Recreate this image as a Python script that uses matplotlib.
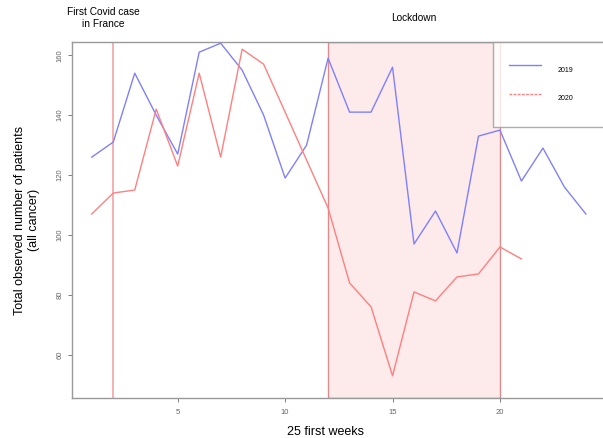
import matplotlib
matplotlib.use("Agg")
import matplotlib.pyplot as plt
from matplotlib.lines import Line2D

weeks = list(range(1, 25))
cases_2019 = [126, 131, 154, 140, 127, 161, 164, 155, 140, 119, 130, 159,
              141, 141, 156, 97, 108, 94, 133, 135, 118, 129, 116, 107]
weeks_2020 = list(range(1, 22))
cases_2020 = [107, 114, 115, 142, 123, 154, 126, 162, 157, 141, 125, 109,
              84, 76, 53, 81, 78, 86, 87, 96, 92]

first_case_week = 2
lockdown = (12, 20)
xticks = [5, 10, 15, 20]
yticks = [60, 80, 100, 120, 140, 160]

plt.rcParams['font.family'] = ['Liberation Sans', 'DejaVu Sans']

fig = plt.figure(figsize=(6.03, 4.38), dpi=100)
ax = fig.add_axes([0.1194, 0.0913, 0.885, 0.8128])

ax.axvspan(lockdown[0], lockdown[1], facecolor='#fdeaea', edgecolor='#dc8c8c', lw=1, zorder=1)
ax.axvline(first_case_week, color='#f2a4a4', lw=1.2, zorder=1)

ax.plot(weeks, cases_2019, color='#8080ff', lw=1, zorder=3)
ax.plot(weeks_2020, cases_2020, color='#ff8080', lw=1, zorder=3)

ax.set_xlim(0.08, 24.92)
ax.set_ylim(45.6, 164.4)
ax.set_xticks(xticks)
ax.set_yticks(yticks)
ax.tick_params(axis='both', labelsize=5.5, colors='#666666', length=3, width=0.6, direction='out')
ax.tick_params(axis='x', pad=5)
ax.tick_params(axis='y', pad=3)
for lab in ax.get_yticklabels():
    lab.set_rotation(90)
    lab.set_va('center')
for s in ax.spines.values():
    s.set_color('#999999')
    s.set_linewidth(1)

handles = [Line2D([], [], color='#8080ff', lw=1),
           Line2D([], [], color='#ff8080', lw=1, linestyle=(0, (2, 1)))]
leg = ax.legend(handles, ['2019', '2020'], loc='upper left',
                bbox_to_anchor=(0.7894, 0.0, 0.3, 1.0), mode='expand',
                fontsize=5, frameon=True, fancybox=False, borderpad=2.3,
                handleheight=4.9, labelspacing=0.72, handlelength=4.6,
                handletextpad=2.4, borderaxespad=0)
leg.get_frame().set_edgecolor('#999999')
leg.get_frame().set_linewidth(1)

tr = ax.get_xaxis_transform()
ax.text(1.53, 1.068, 'First Covid case\nin France', transform=tr, ha='center', va='center',
        fontsize=7.3, linespacing=1.25, clip_on=False)
ax.text(16, 1.068, 'Lockdown', transform=tr, ha='center', va='center', fontsize=7.3, clip_on=False)

fig.text(27 / 603, 1 - 220 / 438, 'Total observed number of patients\n(all cancer)',
         rotation=90, ha='center', va='center', fontsize=9, multialignment='center')
fig.text(0.539, 1 - 432 / 438, '25 first weeks', ha='center', va='center', fontsize=9)

plt.savefig('out.png', dpi=100)
plt.close()
